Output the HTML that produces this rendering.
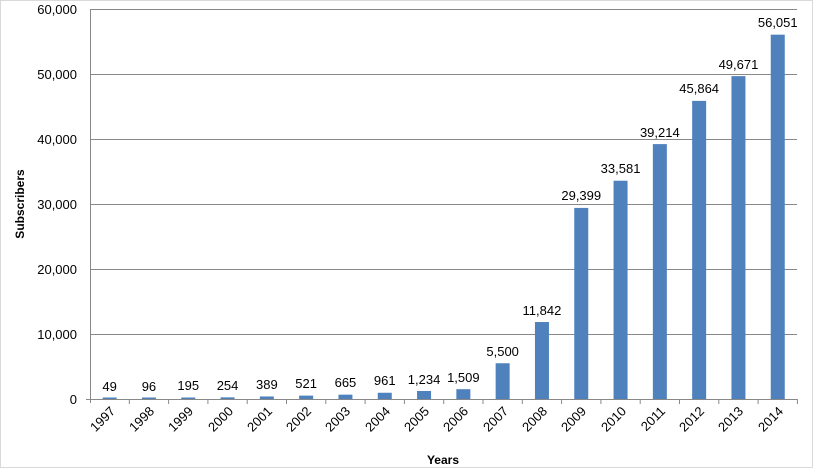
<!DOCTYPE html><html><head><style>body{margin:0;background:#fff}svg text{font-family:"Liberation Sans",sans-serif}</style></head><body>
<svg width="817" height="468" xmlns="http://www.w3.org/2000/svg">
<rect x="0.5" y="0.5" width="812" height="467" fill="#fff" stroke="#d9d9d9"/>
<g stroke="#888" stroke-width="1">
<line x1="90" y1="9.5" x2="797" y2="9.5"/><line x1="90" y1="74.5" x2="797" y2="74.5"/><line x1="90" y1="139.5" x2="797" y2="139.5"/><line x1="90" y1="204.5" x2="797" y2="204.5"/><line x1="90" y1="269.5" x2="797" y2="269.5"/><line x1="90" y1="334.5" x2="797" y2="334.5"/>
</g>
<g font-size="13" fill="#000" text-anchor="end">
<text x="77" y="14">60,000</text><text x="77" y="79">50,000</text><text x="77" y="144">40,000</text><text x="77" y="209">30,000</text><text x="77" y="274">20,000</text><text x="77" y="339">10,000</text><text x="77" y="404">0</text>
</g>
<text transform="translate(24,204) rotate(-90)" font-size="12" font-weight="bold" text-anchor="middle">Subscribers</text>
<text x="443" y="464" font-size="12" font-weight="bold" text-anchor="middle">Years</text>
<g fill="#4f81bd">
<rect x="102.65" y="397.5" width="14" height="1.5"/>
<rect x="141.95" y="397.5" width="14" height="1.5"/>
<rect x="181.25" y="397.5" width="14" height="1.5"/>
<rect x="220.55" y="397.35" width="14" height="1.65"/>
<rect x="259.85" y="396.47" width="14" height="2.53"/>
<rect x="299.15" y="395.61" width="14" height="3.39"/>
<rect x="338.45" y="394.68" width="14" height="4.32"/>
<rect x="377.75" y="392.75" width="14" height="6.25"/>
<rect x="417.05" y="390.98" width="14" height="8.02"/>
<rect x="456.35" y="389.19" width="14" height="9.81"/>
<rect x="495.65" y="363.25" width="14" height="35.75"/>
<rect x="534.95" y="322.03" width="14" height="76.97"/>
<rect x="574.25" y="207.91" width="14" height="191.09"/>
<rect x="613.55" y="180.72" width="14" height="218.28"/>
<rect x="652.85" y="144.11" width="14" height="254.89"/>
<rect x="692.15" y="100.88" width="14" height="298.12"/>
<rect x="731.45" y="76.14" width="14" height="322.86"/>
<rect x="770.75" y="34.67" width="14" height="364.33"/>
</g>
<g font-size="13" text-anchor="middle" fill="#000">
<text x="109.65" y="391">49</text>
<text x="148.95" y="391">96</text>
<text x="188.25" y="390">195</text>
<text x="227.55" y="390">254</text>
<text x="266.85" y="389">389</text>
<text x="306.15" y="388">521</text>
<text x="345.45" y="387">665</text>
<text x="384.75" y="385">961</text>
<text x="424.05" y="384">1,234</text>
<text x="463.35" y="382">1,509</text>
<text x="502.65" y="356">5,500</text>
<text x="541.95" y="315">11,842</text>
<text x="581.25" y="200">29,399</text>
<text x="620.55" y="173">33,581</text>
<text x="659.85" y="137">39,214</text>
<text x="699.15" y="93">45,864</text>
<text x="738.45" y="69">49,671</text>
<text x="777.75" y="27">56,051</text>
</g>
<g stroke="#888">
<line x1="129.3" y1="399" x2="129.3" y2="404"/><line x1="168.6" y1="399" x2="168.6" y2="404"/><line x1="207.9" y1="399" x2="207.9" y2="404"/><line x1="247.2" y1="399" x2="247.2" y2="404"/><line x1="286.5" y1="399" x2="286.5" y2="404"/><line x1="325.8" y1="399" x2="325.8" y2="404"/><line x1="365.1" y1="399" x2="365.1" y2="404"/><line x1="404.4" y1="399" x2="404.4" y2="404"/><line x1="443.7" y1="399" x2="443.7" y2="404"/><line x1="483" y1="399" x2="483" y2="404"/><line x1="522.3" y1="399" x2="522.3" y2="404"/><line x1="561.6" y1="399" x2="561.6" y2="404"/><line x1="600.9" y1="399" x2="600.9" y2="404"/><line x1="640.2" y1="399" x2="640.2" y2="404"/><line x1="679.5" y1="399" x2="679.5" y2="404"/><line x1="718.8" y1="399" x2="718.8" y2="404"/><line x1="758.1" y1="399" x2="758.1" y2="404"/><line x1="797.4" y1="399" x2="797.4" y2="404"/>
</g>
<g font-size="13" text-anchor="end" fill="#000">
<text transform="translate(116,412) rotate(-45)">1997</text>
<text transform="translate(155,412) rotate(-45)">1998</text>
<text transform="translate(194,412) rotate(-45)">1999</text>
<text transform="translate(234,412) rotate(-45)">2000</text>
<text transform="translate(273,412) rotate(-45)">2001</text>
<text transform="translate(312,412) rotate(-45)">2002</text>
<text transform="translate(351,412) rotate(-45)">2003</text>
<text transform="translate(391,412) rotate(-45)">2004</text>
<text transform="translate(430,412) rotate(-45)">2005</text>
<text transform="translate(469,412) rotate(-45)">2006</text>
<text transform="translate(509,412) rotate(-45)">2007</text>
<text transform="translate(548,412) rotate(-45)">2008</text>
<text transform="translate(587,412) rotate(-45)">2009</text>
<text transform="translate(627,412) rotate(-45)">2010</text>
<text transform="translate(666,412) rotate(-45)">2011</text>
<text transform="translate(705,412) rotate(-45)">2012</text>
<text transform="translate(744,412) rotate(-45)">2013</text>
<text transform="translate(784,412) rotate(-45)">2014</text>
</g>
<line x1="90.5" y1="9" x2="90.5" y2="403" stroke="#888"/>
<line x1="86" y1="399.5" x2="797" y2="399.5" stroke="#888"/>
</svg></body></html>
